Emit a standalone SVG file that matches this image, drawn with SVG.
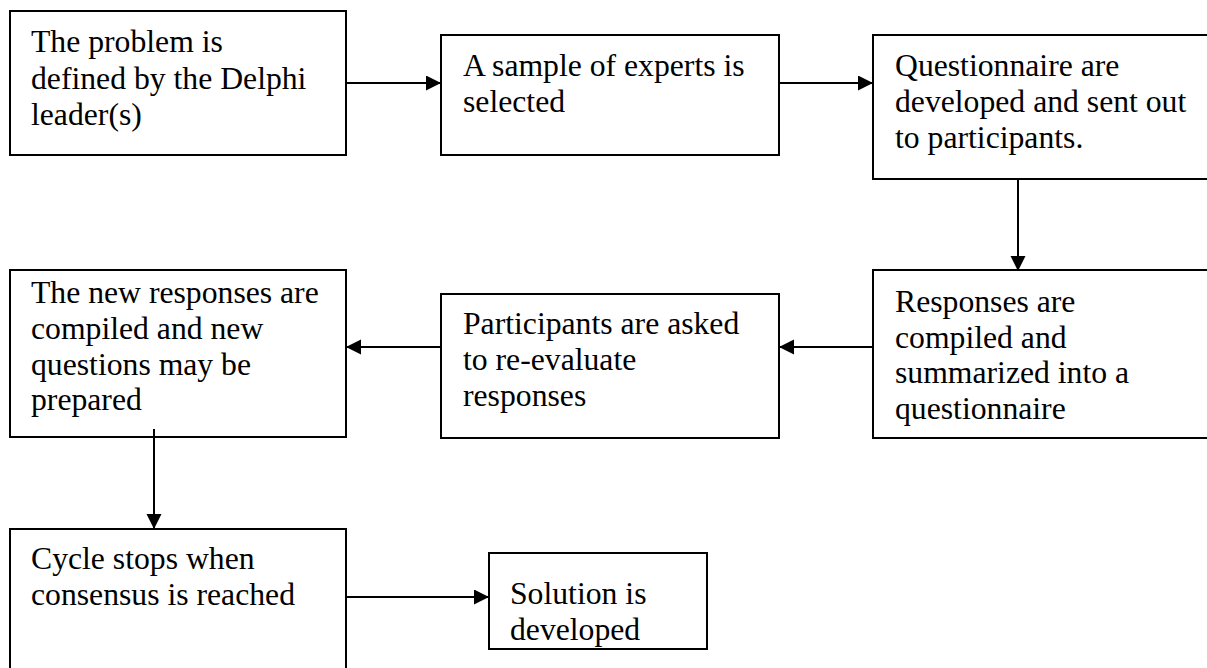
<svg xmlns="http://www.w3.org/2000/svg" width="1207" height="668" viewBox="0 0 1207 668">
<style>
.box{fill:#fff;stroke:#000;stroke-width:2}
.t{font-family:"Liberation Serif","Times New Roman",serif;font-size:31.7px;fill:#000}
.c{stroke:#000;stroke-width:2;fill:none;marker-end:url(#ah)}
</style>
<defs>
<marker id="ah" markerUnits="userSpaceOnUse" markerWidth="16" markerHeight="16" refX="15" refY="7.5" orient="auto">
<path d="M0,0 L15,7.5 L0,15 z" fill="#000"/>
</marker>
</defs>
<rect width="1207" height="668" fill="#fff"/>
<g id="n1">
<rect class="box" x="10" y="11" width="336" height="144"/>
<text class="t" x="31" y="52">The problem is</text>
<text class="t" x="31" y="88.5">defined by the Delphi</text>
<text class="t" x="31" y="124.5">leader(s)</text>
</g>
<g id="n2">
<rect class="box" x="441" y="35" width="338" height="120"/>
<text class="t" x="463" y="76">A sample of experts is</text>
<text class="t" x="463" y="112">selected</text>
</g>
<g id="n3">
<rect class="box" x="873" y="35" width="340" height="144"/>
<text class="t" x="895" y="76">Questionnaire are</text>
<text class="t" x="895" y="112">developed and sent out</text>
<text class="t" x="895" y="148">to participants.</text>
</g>
<g id="n4">
<rect class="box" x="873" y="270" width="340" height="168"/>
<text class="t" x="895" y="312">Responses are</text>
<text class="t" x="895" y="347.5">compiled and</text>
<text class="t" x="895" y="383">summarized into a</text>
<text class="t" x="895" y="418.5">questionnaire</text>
</g>
<g id="n5">
<rect class="box" x="441" y="294" width="338" height="144"/>
<text class="t" x="463" y="334">Participants are asked</text>
<text class="t" x="463" y="370">to re-evaluate</text>
<text class="t" x="463" y="406">responses</text>
</g>
<g id="n6">
<rect class="box" x="10" y="270" width="336" height="167"/>
<text class="t" x="31" y="302.5">The new responses are</text>
<text class="t" x="31" y="338.5">compiled and new</text>
<text class="t" x="31" y="374.5">questions may be</text>
<text class="t" x="31" y="410">prepared</text>
</g>
<g id="n7">
<rect class="box" x="10" y="529" width="336" height="145"/>
<text class="t" x="31" y="568.5">Cycle stops when</text>
<text class="t" x="31" y="605">consensus is reached</text>
</g>
<g id="n8">
<rect class="box" x="489" y="553" width="218" height="96"/>
<text class="t" x="510" y="603.5">Solution is</text>
<text class="t" x="510" y="640">developed</text>
</g>
<g id="connectors">
<line class="c" x1="346" y1="83" x2="441" y2="83"/>
<line class="c" x1="779" y1="83" x2="873" y2="83"/>
<line class="c" x1="1018" y1="179" x2="1018" y2="271"/>
<line class="c" x1="873" y1="347" x2="779" y2="347"/>
<line class="c" x1="441" y1="347" x2="346" y2="347"/>
<line class="c" x1="154" y1="429" x2="154" y2="529"/>
<line class="c" x1="346" y1="597" x2="489" y2="597"/>
</g>
</svg>
